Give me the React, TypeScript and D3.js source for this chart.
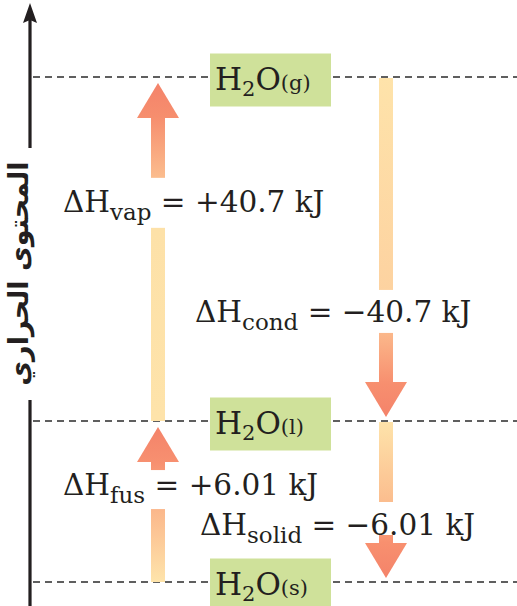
import React from "react";
import * as d3 from "d3";

// ---- data ----
const stateKeys = ["s", "l", "g"];
const stateEnergies = [0, 6.01, 46.71]; // kJ, relative to ice
const transitionNames = ["vap", "fus", "cond", "solid"];
const transitionFrom = ["l", "s", "g", "l"];
const transitionTo = ["g", "l", "l", "s"];
const transitionValues = [40.7, 6.01, -40.7, -6.01];
const axisLabel = "المحتوى الحراري";

// ---- layout ----
const W = 517;
const H = 606;
const FONT = "'DejaVu Serif', 'Liberation Serif', serif";
const levelY = d3.scaleLinear().domain(stateEnergies).range([582, 421, 77]);
const energyOf = (k: string) => stateEnergies[stateKeys.indexOf(k)];
const colX = d3.scaleOrdinal<string, number>().domain(["up", "down"]).range([158, 386]);

const headLen = 35;
const headW = 42;
const shaftW = 14;

// per-transition label placement (x start, fraction along arrow, gap around baseline)
const labelLayout: Record<string, { x: number; frac: number; gap: [number, number]; stops: [number, string][] }> = {
  vap: { x: 63, frac: 0.608, gap: [-34, 16], stops: [[0, "#fee3aa"], [0.57, "#fde1a8"], [0.72, "#fbbd8e"], [0.9, "#f68e6e"], [1, "#f4836a"]] },
  cond: { x: 195, frac: 0.712, gap: [-32, 11], stops: [[0, "#fee3aa"], [0.63, "#fdd2a0"], [0.755, "#fbb78a"], [0.9, "#f78f6f"], [1, "#f4836a"]] },
  fus: { x: 63, frac: 0.54, gap: [-25, 14], stops: [[0, "#fee4ab"], [0.47, "#fbb78b"], [0.77, "#f79070"], [1, "#f4836a"]] },
  solid: { x: 200, frac: 0.708, gap: [-33, 0], stops: [[0, "#fee3aa"], [0.51, "#fbbd8e"], [0.77, "#f8906f"], [1, "#f4836a"]] },
};

const fmt = d3.format("+");

function Arrow({ i }: { i: number }) {
  const name = transitionNames[i];
  const y0 = levelY(energyOf(transitionFrom[i]));
  const yEnd = levelY(energyOf(transitionTo[i]));
  const up = transitionValues[i] > 0;
  const dir = up ? -1 : 1;
  const tipGap = up ? 6 : 4;
  const tip = yEnd - dir * tipGap;
  const tail = up ? y0 : y0 + 1;
  const headBase = tip - dir * headLen;
  const cx = colX(up ? "up" : "down");
  const L = labelLayout[name];
  const baseline = y0 + (yEnd - y0) * L.frac;
  const gA = baseline + L.gap[0];
  const gB = baseline + L.gap[1];
  const id = `grad-${name}`;
  const segs: [number, number][] = up
    ? [[gB, tail], [headBase, gA]]
    : [[tail, gA], [gB, headBase]];
  return (
    <g>
      <defs>
        <linearGradient id={id} gradientUnits="userSpaceOnUse" x1={0} x2={0} y1={tail} y2={tip}>
          {L.stops.map(([o, c], k) => (
            <stop key={k} offset={o} stopColor={c} />
          ))}
        </linearGradient>
      </defs>
      {segs.map(([a, b], k) =>
        b > a ? (
          <rect key={k} x={cx - shaftW / 2} y={a} width={shaftW} height={b - a} fill={`url(#${id})`} />
        ) : null
      )}
      <path
        d={`M${cx - headW / 2},${headBase}L${cx + headW / 2},${headBase}L${cx},${tip}Z`}
        fill={`url(#${id})`}
      />
      <text x={L.x} y={baseline} fontFamily={FONT} fontSize={29.5} fill="#231f20">
        <tspan>ΔH</tspan>
        <tspan fontSize={23} dy={8}>{name}</tspan>
        <tspan dy={-8}>{` = ${fmt(transitionValues[i])} kJ`}</tspan>
      </text>
    </g>
  );
}

export default function App() {
  const boxX = 210;
  const boxW = 121;
  const boxH = 53;
  return (
    <svg width={W} height={H} style={{ position: "absolute", left: 0, top: 0, background: "#fff" }}>
      <rect width={W} height={H} fill="#fff" />
      {stateKeys.map((k) => (
        <line
          key={k}
          x1={33}
          x2={W}
          y1={levelY(energyOf(k))}
          y2={levelY(energyOf(k))}
          stroke="#2b2b2b"
          strokeWidth={1.6}
          strokeDasharray="7 5"
        />
      ))}
      <line x1={30} x2={30} y1={20} y2={148} stroke="#231f20" strokeWidth={3.2} />
      <path d="M30,3 L37,23 L30,20 L23,23 Z" fill="#231f20" />
      <line x1={30} x2={30} y1={400} y2={H} stroke="#231f20" strokeWidth={3.2} />
      <text
        transform={`translate(28,${(162 + 385) / 2}) rotate(-90)`}
        textAnchor="middle"
        fontFamily="'DejaVu Sans', sans-serif"
        fontWeight="bold"
        fontSize={27}
        fill="#231f20"
        direction="rtl"
      >
        {axisLabel}
      </text>
      {transitionNames.map((n, i) => (
        <Arrow key={n} i={i} />
      ))}
      {stateKeys.map((k) => {
        const y = levelY(energyOf(k));
        return (
          <g key={k}>
            <rect x={boxX} y={y + 3 - boxH / 2} width={boxW} height={boxH} fill="#cfe19a" />
            <text x={boxX + 5} y={y + 13} fontFamily={FONT} fontSize={31} fill="#231f20">
              <tspan>H</tspan>
              <tspan fontSize={21} dy={6}>2</tspan>
              <tspan dy={-6}>O</tspan>
              <tspan fontSize={21}>{`(${k})`}</tspan>
            </text>
          </g>
        );
      })}
    </svg>
  );
}
